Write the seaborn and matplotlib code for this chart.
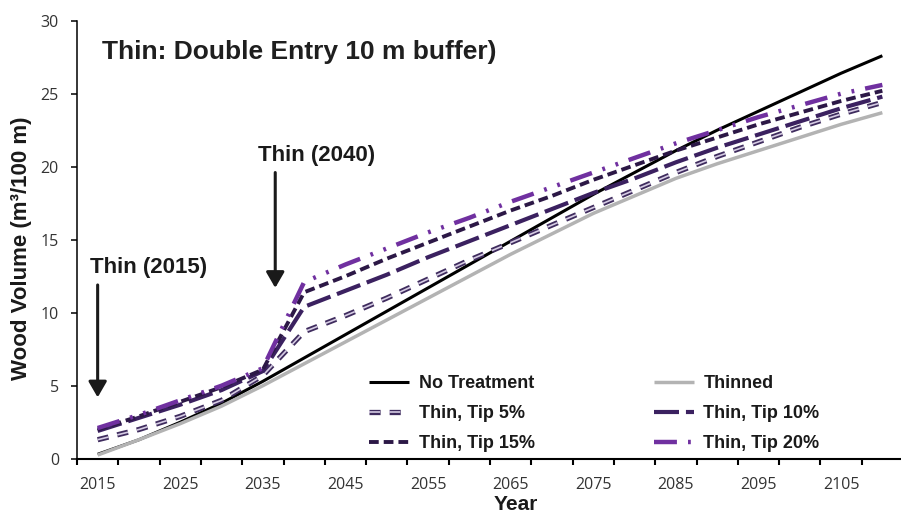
import matplotlib
matplotlib.use("Agg")
import matplotlib.pyplot as plt
from matplotlib import patheffects as pe
from matplotlib.font_manager import FontProperties
import numpy as np
import pandas as pd
import seaborn as sns

# ---- data -------------------------------------------------------------
years = list(range(2015, 2111, 5))

no_treatment = [0.3, 1.3, 2.5, 3.8, 5.3, 6.9, 8.5, 10.1, 11.7, 13.3,
                14.9, 16.5, 18.1, 19.6, 21.1, 22.5, 23.8, 25.1, 26.4, 27.6]
thinned = [0.25, 1.3, 2.4, 3.6, 5.0, 6.5, 8.0, 9.5, 11.0, 12.5,
           14.0, 15.4, 16.8, 18.0, 19.2, 20.2, 21.1, 22.0, 22.9, 23.7]
tip_5 = [1.3, 2.0, 2.9, 4.0, 5.7, 8.7, 9.8, 11.0, 12.3, 13.6,
         14.8, 16.0, 17.2, 18.4, 19.6, 20.7, 21.7, 22.7, 23.6, 24.4]
tip_10 = [1.9, 2.8, 3.7, 4.7, 6.0, 10.4, 11.5, 12.6, 13.8, 14.9,
          16.0, 17.1, 18.2, 19.2, 20.3, 21.3, 22.2, 23.1, 24.0, 24.8]
tip_15 = [2.0, 2.9, 3.9, 4.9, 6.1, 11.4, 12.5, 13.7, 14.8, 15.9,
          17.0, 18.0, 19.1, 20.1, 21.1, 22.0, 22.9, 23.7, 24.5, 25.2]
tip_20 = [2.1, 3.0, 4.0, 5.0, 6.2, 12.1, 13.3, 14.4, 15.5, 16.5,
          17.6, 18.6, 19.6, 20.6, 21.6, 22.5, 23.4, 24.2, 25.0, 25.6]

scenarios = ["No Treatment", "Thinned", "Thin, Tip 5%",
             "Thin, Tip 10%", "Thin, Tip 15%", "Thin, Tip 20%"]
x_tick_labels = [2015, 2025, 2035, 2045, 2055, 2065, 2075, 2085, 2095, 2105]
y_ticks = [0, 5, 10, 15, 20, 25, 30]

df = pd.DataFrame({
    "Year": years * len(scenarios),
    "Volume": no_treatment + thinned + tip_5 + tip_10 + tip_15 + tip_20,
    "Scenario": [s for s in scenarios for _ in years],
})

# ---- style ------------------------------------------------------------
sns.set_theme(style="ticks")
plt.rcParams["font.family"] = ["Liberation Sans", "DejaVu Sans"]
plt.rcParams["lines.scale_dashes"] = False

palette = {
    "No Treatment": "#000000",
    "Thinned": "#b3b3b3",
    "Thin, Tip 5%": "#d6cce4",
    "Thin, Tip 10%": "#3b2160",
    "Thin, Tip 15%": "#2c1846",
    "Thin, Tip 20%": "#7030a0",
}
dashes = {
    "No Treatment": "",
    "Thinned": "",
    "Thin, Tip 5%": (8, 6.5),
    "Thin, Tip 10%": (18, 5),
    "Thin, Tip 15%": (7, 3.6),
    "Thin, Tip 20%": (16.5, 8, 2, 8, 2, 8),
}
sizes = {
    "No Treatment": 2.2,
    "Thinned": 2.5,
    "Thin, Tip 5%": 1.2,
    "Thin, Tip 10%": 3.0,
    "Thin, Tip 15%": 2.8,
    "Thin, Tip 20%": 3.2,
}

W, H = 901, 514
fig = plt.figure(figsize=(W / 100, H / 100), dpi=100)
x0, x1, y_top, y_bot = 77, 903, 20.7, 458.7
ax = fig.add_axes([x0 / W, 1 - y_bot / H, (x1 - x0) / W, (y_bot - y_top) / H])

sns.lineplot(data=df, x="Year", y="Volume", hue="Scenario", style="Scenario",
             size="Scenario", hue_order=scenarios, style_order=scenarios,
             size_order=scenarios, palette=palette, dashes=dashes, sizes=sizes,
             legend=False, sort=False, ax=ax)

lines = ax.get_lines()
# Tip 5% is drawn as an outlined dash with a pale core
lines[2].set_path_effects([pe.Stroke(linewidth=3.8, foreground="#3f2c5e"), pe.Normal()])
for ln in lines:
    ln.set_dash_capstyle("butt")
    ln.set_solid_capstyle("butt")

# ---- axes -------------------------------------------------------------
ax.set_xlim(2012.5, 2112.5)
ax.set_ylim(0, 30)
sns.despine(ax=ax)
ax.spines["left"].set_linewidth(1.1)
ax.spines["bottom"].set_linewidth(1.5)
ax.spines["left"].set_color("black")
ax.spines["bottom"].set_color("black")

ax.set_yticks(y_ticks)
ax.set_yticklabels([str(v) for v in y_ticks], family="Open Sans",
                   fontsize=11.5, color="#333333")
ax.tick_params(axis="y", length=4.5, width=1.1, pad=8.5, color="black")

ax.set_xticks(np.arange(2012.5, 2113, 5))
ax.set_xticklabels([])
ax.set_xticks(x_tick_labels, minor=True)
ax.set_xticklabels([str(v) for v in x_tick_labels], minor=True,
                   family="Open Sans", fontsize=11.5, color="#333333")
ax.tick_params(axis="x", which="major", length=4.5, width=1.5, color="black")
ax.tick_params(axis="x", which="minor", length=0, pad=13)

ax.set_xlabel("Year", fontsize=15, fontweight="bold", color="#1a1a1a")
ax.xaxis.set_label_coords((516 - x0) / (x1 - x0), (y_bot - 505) / (y_bot - y_top))
ax.xaxis.label.set_va("center")
ax.set_ylabel("Wood Volume (m³/100 m)", fontsize=16, fontweight="bold",
              color="#1a1a1a")
ax.yaxis.set_label_coords((22 - x0) / (x1 - x0), (y_bot - 248.5) / (y_bot - y_top))
ax.yaxis.label.set_va("center")

# ---- annotations ------------------------------------------------------
ax.text(2015.5, 27.85, "Thin: Double Entry 10 m buffer)", fontsize=19,
        fontweight="bold", color="#1f1f1f", ha="left", va="center")
ax.text(2014.1, 13.1, "Thin (2015)", fontsize=16, fontweight="bold",
        color="#1a1a1a", ha="left", va="center")
ax.text(2034.4, 20.8, "Thin (2040)", fontsize=16, fontweight="bold",
        color="#1a1a1a", ha="left", va="center")

arrow_kw = dict(arrowstyle="-|>,head_length=0.95,head_width=0.55",
                lw=2.2, color="#1a1a1a", shrinkA=0, shrinkB=0,
                mutation_scale=10)
ax.annotate("", xy=(2015, 4.2), xytext=(2015, 11.9), arrowprops=arrow_kw)
ax.annotate("", xy=(2036.5, 11.7), xytext=(2036.5, 19.6), arrowprops=arrow_kw)

# ---- legend -----------------------------------------------------------
order = [0, 2, 4, 1, 3, 5]
leg = ax.legend([lines[i] for i in order], [scenarios[i] for i in order],
                ncol=2, loc="upper left", bbox_to_anchor=(369 / W, 1 - 375 / H),
                bbox_transform=fig.transFigure, frameon=False,
                prop=FontProperties(family="Liberation Sans", weight="bold", size=13),
                handlelength=2.2, handletextpad=0.55, columnspacing=6.6,
                labelspacing=0.72, borderpad=0, borderaxespad=0)
for t in leg.get_texts():
    t.set_color("#1a1a1a")

fig.savefig("out.png", dpi=100)
